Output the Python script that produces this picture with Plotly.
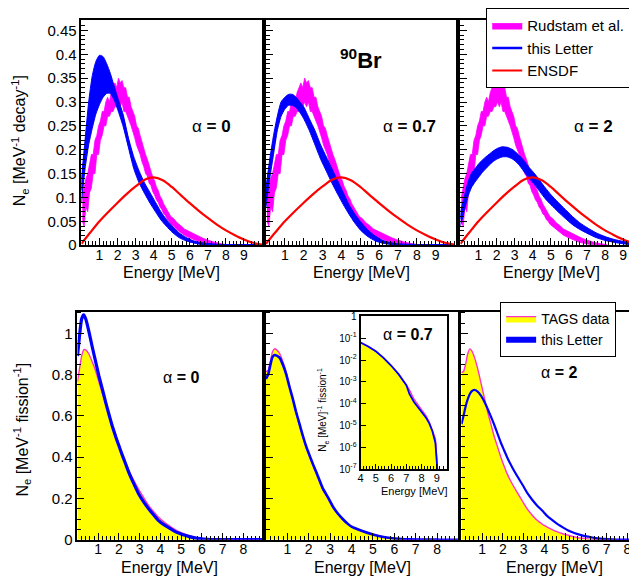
import plotly.graph_objects as go

W, H = 637, 586
FONT = "Liberation Sans, Arial, sans-serif"

def fx(px):
    return px / W

def fy(py):
    return 1 - py / H

# ---------------- TOP ROW DATA (90Br, N_e per MeV per decay) ----------------
# Rudstam et al. measured band (same in all three panels)
rud_E = [0.05, 0.15, 0.25, 0.35, 0.45, 0.55, 0.65, 0.75, 0.85, 0.95,
         1.05, 1.15, 1.25, 1.35, 1.45, 1.55, 1.65, 1.75, 1.85, 1.95,
         2.05, 2.15, 2.25, 2.35, 2.45, 2.55, 2.65, 2.75, 2.85, 2.95,
         3.05, 3.15, 3.25, 3.35, 3.45, 3.55, 3.65, 3.75, 3.85, 3.95,
         4.05, 4.15, 4.25, 4.35, 4.45, 4.55, 4.65, 4.75, 4.85, 4.95,
         5.1, 5.3, 5.5, 5.7, 5.9, 6.1, 6.3, 6.5, 6.7, 6.9, 7.1, 7.3, 7.5, 7.7, 7.9, 8.1]
rud_lo = [0.05, 0.04, 0.08, 0.07, 0.11, 0.12, 0.15, 0.15, 0.19, 0.19,
          0.22, 0.23, 0.25, 0.25, 0.27, 0.27, 0.28, 0.28, 0.29, 0.29,
          0.30, 0.29, 0.30, 0.28, 0.28, 0.27, 0.26, 0.25, 0.24, 0.225,
          0.21, 0.20, 0.19, 0.175, 0.165, 0.15, 0.145, 0.13, 0.125, 0.112,
          0.105, 0.095, 0.09, 0.08, 0.075, 0.066, 0.062, 0.054, 0.05, 0.044,
          0.04, 0.032, 0.027, 0.021, 0.017, 0.013, 0.01, 0.007, 0.005, 0.003,
          0.002, 0.001, 0.0, 0.0, 0.0, 0.0]
rud_hi = [0.10, 0.12, 0.14, 0.15, 0.17, 0.19, 0.19, 0.22, 0.23, 0.25,
          0.26, 0.28, 0.28, 0.30, 0.31, 0.30, 0.32, 0.33, 0.34, 0.33,
          0.35, 0.34, 0.345, 0.33, 0.33, 0.31, 0.31, 0.29, 0.28, 0.27,
          0.25, 0.245, 0.23, 0.215, 0.205, 0.19, 0.18, 0.165, 0.155, 0.143,
          0.135, 0.122, 0.115, 0.103, 0.097, 0.087, 0.08, 0.073, 0.067, 0.06,
          0.056, 0.047, 0.041, 0.034, 0.03, 0.026, 0.022, 0.018, 0.015, 0.012,
          0.009, 0.007, 0.005, 0.003, 0.002, 0.001]

# "this Letter" bands for alpha = 0, 0.7, 2
bt_E = [0, 0.2, 0.4, 0.6, 0.8, 1.0, 1.2, 1.4, 1.6, 1.8, 2.0, 2.3, 2.6, 2.9, 3.2, 3.5,
        3.8, 4.1, 4.4, 4.7, 5.0, 5.4, 5.8, 6.2, 6.6, 7.0, 7.5, 8.0, 8.5, 9.0, 9.5, 10.0]
a0_lo = [0.09, 0.16, 0.21, 0.245, 0.275, 0.295, 0.31, 0.318, 0.318, 0.305, 0.285, 0.25,
         0.205, 0.16, 0.13, 0.108, 0.088, 0.07, 0.053, 0.04, 0.028, 0.016, 0.009, 0.005,
         0.002, 0.001, 0, 0, 0, 0, 0, 0]
a0_hi = [0.14, 0.22, 0.30, 0.355, 0.385, 0.398, 0.395, 0.38, 0.36, 0.335, 0.31, 0.275,
         0.225, 0.185, 0.155, 0.13, 0.11, 0.09, 0.07, 0.054, 0.041, 0.026, 0.016, 0.009,
         0.005, 0.003, 0.001, 0, 0, 0, 0, 0]
a07_lo = [0.08, 0.14, 0.19, 0.24, 0.27, 0.285, 0.293, 0.293, 0.288, 0.278, 0.265, 0.24,
          0.21, 0.18, 0.155, 0.13, 0.107, 0.085, 0.065, 0.047, 0.032, 0.018, 0.009, 0.004,
          0.002, 0.001, 0, 0, 0, 0, 0, 0]
a07_hi = [0.12, 0.18, 0.23, 0.27, 0.30, 0.31, 0.316, 0.316, 0.31, 0.30, 0.29, 0.265,
          0.24, 0.21, 0.185, 0.16, 0.135, 0.11, 0.085, 0.066, 0.05, 0.032, 0.019, 0.01,
          0.005, 0.002, 0.001, 0, 0, 0, 0, 0]
a2_lo = [0.04, 0.07, 0.10, 0.12, 0.132, 0.142, 0.152, 0.16, 0.168, 0.175, 0.18, 0.185,
         0.185, 0.18, 0.17, 0.155, 0.14, 0.127, 0.112, 0.097, 0.085, 0.07, 0.056, 0.043,
         0.033, 0.025, 0.016, 0.01, 0.006, 0.003, 0.001, 0]
a2_hi = [0.07, 0.10, 0.13, 0.15, 0.16, 0.17, 0.178, 0.185, 0.191, 0.197, 0.202, 0.206,
         0.205, 0.20, 0.19, 0.178, 0.163, 0.15, 0.135, 0.12, 0.106, 0.09, 0.075, 0.06,
         0.047, 0.037, 0.026, 0.018, 0.012, 0.008, 0.004, 0.001]

# ENSDF
en_E = [0, 0.5, 1, 1.5, 2, 2.5, 3, 3.5, 4, 4.5, 5, 5.5, 6, 6.5, 7, 7.5, 8, 8.5, 9, 9.5, 10]
en_y = [0.003, 0.027, 0.05, 0.07, 0.089, 0.107, 0.123, 0.137, 0.142, 0.136, 0.122,
        0.105, 0.088, 0.072, 0.057, 0.043, 0.031, 0.021, 0.012, 0.005, 0.001]

# ---------------- BOTTOM ROW DATA (N_e per MeV per fission) ----------------
p1_E = [0, 0.1, 0.2, 0.3, 0.4, 0.55, 0.7, 0.87, 1.03, 1.2, 1.36, 1.52, 1.68, 1.84, 2.0,
        2.16, 2.32, 2.5, 2.7, 2.96, 3.2, 3.44, 3.7, 3.9, 4.15, 4.4, 4.65, 4.88, 5.1, 5.36,
        5.6, 5.8, 6.1, 6.4, 6.8, 7.3, 8.0, 8.9]
p1_tags = [0.765, 0.83, 0.89, 0.92, 0.92, 0.90, 0.865, 0.82, 0.765, 0.71, 0.66, 0.61,
           0.56, 0.51, 0.46, 0.415, 0.372, 0.33, 0.29, 0.243, 0.203, 0.165, 0.133, 0.11,
           0.088, 0.07, 0.053, 0.039, 0.03, 0.02, 0.013, 0.008, 0.004, 0.002, 0.001, 0, 0, 0]
p1_this = [0.89, 0.99, 1.07, 1.09, 1.07, 1.01, 0.94, 0.865, 0.795, 0.73, 0.666, 0.607,
           0.55, 0.50, 0.455, 0.41, 0.368, 0.32, 0.275, 0.22, 0.182, 0.149, 0.117, 0.094,
           0.074, 0.058, 0.043, 0.032, 0.024, 0.016, 0.01, 0.006, 0.003, 0.001, 0, 0, 0, 0]

p2_E = [0, 0.1, 0.2, 0.3, 0.4, 0.5, 0.65, 0.8, 0.95, 1.1, 1.26, 1.4, 1.57, 1.72, 1.88,
        2.05, 2.2, 2.4, 2.65, 2.9, 3.12, 3.35, 3.6, 3.8]
p2_tags = [0.815, 0.82, 0.86, 0.91, 0.925, 0.92, 0.90, 0.86, 0.81, 0.745, 0.68, 0.62,
           0.557, 0.50, 0.447, 0.40, 0.36, 0.31, 0.245, 0.20, 0.158, 0.125, 0.097, 0.078]
p2_this = [0.78, 0.80, 0.845, 0.885, 0.895, 0.892, 0.88, 0.845, 0.80, 0.74, 0.68, 0.622,
           0.56, 0.505, 0.452, 0.405, 0.365, 0.315, 0.25, 0.205, 0.162, 0.128, 0.099, 0.079]
# high-energy tail for alpha = 0.7 (also shown in the log inset)
tail_E = [4.0, 4.5, 5.0, 5.5, 6.0, 6.5, 7.0, 7.2, 7.5, 8.0, 8.3, 8.5, 8.7, 8.9, 9.0, 9.05]
tail_tags = [6.3e-2, 4.2e-2, 2.5e-2, 1.26e-2, 5.6e-3, 2.2e-3, 7.1e-4, 4.3e-4, 1.6e-4,
             5.4e-5, 2.7e-5, 1.4e-5, 6.3e-6, 2.5e-6, 2.5e-7, 6e-8]
tail_this = [6.3e-2, 4.2e-2, 2.5e-2, 1.26e-2, 5.6e-3, 2.2e-3, 7.1e-4, 2.8e-4, 1.2e-4,
             4.3e-5, 2.2e-5, 1.26e-5, 5.6e-6, 1.6e-6, 3.2e-7, 6e-8]

p3_E = [0, 0.1, 0.2, 0.3, 0.4, 0.5, 0.62, 0.78, 0.94, 1.1, 1.26, 1.42, 1.58, 1.74, 1.9,
        2.05, 2.2, 2.45, 2.7, 2.95, 3.17, 3.4, 3.65, 3.9, 4.1, 4.35, 4.6, 4.85, 5.1, 5.35,
        5.6, 5.85, 6.1, 6.4, 6.7, 7.0, 7.5, 8.0, 8.75]
p3_tags = [0.81, 0.815, 0.85, 0.90, 0.925, 0.915, 0.886, 0.83, 0.76, 0.69, 0.62, 0.56,
           0.50, 0.45, 0.40, 0.358, 0.32, 0.27, 0.227, 0.185, 0.149, 0.12, 0.094, 0.075,
           0.063, 0.05, 0.039, 0.03, 0.023, 0.016, 0.01, 0.007, 0.004, 0.002, 0.001,
           0.0005, 0, 0, 0]
p3_this = [0.56, 0.60, 0.645, 0.68, 0.705, 0.72, 0.726, 0.718, 0.698, 0.67, 0.635, 0.597,
           0.557, 0.513, 0.47, 0.435, 0.40, 0.35, 0.306, 0.265, 0.227, 0.195, 0.165, 0.14,
           0.118, 0.097, 0.078, 0.062, 0.047, 0.036, 0.027, 0.02, 0.015, 0.009, 0.005,
           0.003, 0.001, 0, 0]

top_ticks = [1, 2, 3, 4, 5, 6, 7, 8, 9]
bot_ticks = [1, 2, 3, 4, 5, 6, 7, 8]
inset_ticks = [4, 5, 6, 7, 8, 9]
top_yvals = [0, 0.05, 0.1, 0.15, 0.2, 0.25, 0.3, 0.35, 0.4, 0.45]
top_ytext = ["0", "0.05", "0.1", "0.15", "0.2", "0.25", "0.3", "0.35", "0.4", "0.45"]
bot_yvals = [0, 0.2, 0.4, 0.6, 0.8, 1.0]
bot_ytext = ["0", "0.2", "0.4", "0.6", "0.8", "1"]
inset_yvals = [1e-7, 1e-6, 1e-5, 1e-4, 1e-3, 1e-2, 1e-1, 1]
inset_ytext = ["10<sup>-7</sup>", "10<sup>-6</sup>", "10<sup>-5</sup>", "10<sup>-4</sup>",
               "10<sup>-3</sup>", "10<sup>-2</sup>", "10<sup>-1</sup>", "1"]

MAG = "#ff00ff"
BLUE = "#0000ff"
RED = "#ff0000"
YEL = "#ffff00"
PINK = "#ff33cc"

fig = go.Figure()

bands = [(a0_lo, a0_hi), (a07_lo, a07_hi), (a2_lo, a2_hi)]
for k, (lo, hi) in enumerate(bands):
    xa = "x" if k == 0 else f"x{k+1}"
    ya = "y" if k == 0 else f"y{k+1}"
    first = (k == 0)
    fig.add_trace(go.Scatter(
        x=rud_E + rud_E[::-1], y=rud_hi + rud_lo[::-1], xaxis=xa, yaxis=ya,
        fill="toself", fillcolor=MAG, mode="lines", line=dict(color=MAG, width=0.8),
        name="Rudstam et al.", showlegend=first, legend="legend"))
    fig.add_trace(go.Scatter(
        x=bt_E + bt_E[::-1], y=hi + lo[::-1], xaxis=xa, yaxis=ya,
        fill="toself", fillcolor=BLUE, mode="lines",
        line=dict(color=BLUE, width=1, shape="spline", smoothing=0.6),
        showlegend=False, hoverinfo="skip"))
    mid = [(a + b) / 2 for a, b in zip(lo, hi)]
    fig.add_trace(go.Scatter(
        x=bt_E, y=mid, xaxis=xa, yaxis=ya, mode="lines",
        line=dict(color=BLUE, width=2.5, shape="spline", smoothing=0.6),
        name="this Letter", showlegend=first, legend="legend"))
    fig.add_trace(go.Scatter(
        x=en_E, y=en_y, xaxis=xa, yaxis=ya, mode="lines",
        line=dict(color=RED, width=2.2, shape="spline", smoothing=0.8),
        name="ENSDF", showlegend=first, legend="legend"))

# bottom panels
p2_fullE = p2_E + tail_E
p2_fullT = p2_tags + tail_tags
p2_fullB = p2_this + tail_this
bottom = [(p1_E, p1_tags, p1_this, 3.2), (p2_fullE, p2_fullT, p2_fullB, 2.6),
          (p3_E, p3_tags, p3_this, 2.2)]
for k, (E, t, b, lw) in enumerate(bottom):
    xa = f"x{k+4}"
    ya = f"y{k+4}"
    fig.add_trace(go.Scatter(
        x=E, y=t, xaxis=xa, yaxis=ya, fill="tozeroy", fillcolor=YEL, mode="lines",
        line=dict(color=PINK, width=1.4, shape="spline", smoothing=0.5),
        name="TAGS data", showlegend=(k == 0), legend="legend2"))
    fig.add_trace(go.Scatter(
        x=E, y=b, xaxis=xa, yaxis=ya, mode="lines",
        line=dict(color=BLUE, width=lw, shape="spline", smoothing=0.5),
        showlegend=False))

# legend-only swatch for "this Letter" (bottom legend shows a filled box)
fig.add_trace(go.Scatter(
    x=[None], y=[None], xaxis="x4", yaxis="y4", mode="none", fill="toself",
    fillcolor=BLUE, name="this Letter", legend="legend2"))

# inset (log scale, alpha = 0.7)
fig.add_trace(go.Scatter(
    x=tail_E + [tail_E[-1], tail_E[0]], y=tail_tags + [1e-9, 1e-9],
    xaxis="x7", yaxis="y7", fill="toself", fillcolor=YEL, mode="lines",
    line=dict(color=PINK, width=1.4), showlegend=False))
fig.add_trace(go.Scatter(
    x=tail_E, y=tail_this, xaxis="x7", yaxis="y7", mode="lines",
    line=dict(color=BLUE, width=1.8), showlegend=False))


def xaxis(d0, d1, rng, ticks, show, anchor, minor=0.2, size=14):
    return dict(domain=[fx(d0), fx(d1)], range=rng, tickmode="array", tickvals=ticks,
                ticktext=[str(v) for v in ticks], showticklabels=show,
                ticks="inside", ticklen=7, tickwidth=1, tickcolor="black",
                ticklabelstandoff=-4,
                minor=dict(ticks="inside", ticklen=4, dtick=minor, tick0=0,
                           tickcolor="black", tickwidth=1),
                showline=True, mirror=True, linecolor="black", linewidth=1.6,
                showgrid=False, zeroline=False, anchor=anchor,
                tickfont=dict(size=size, color="black", family=FONT))


def yaxis(d0, d1, rng, vals, text, show, anchor, minor, size=15):
    return dict(domain=[fy(d1), fy(d0)], range=rng, tickmode="array", tickvals=vals,
                ticktext=text, showticklabels=show,
                ticks="inside", ticklen=7, tickwidth=1, tickcolor="black",
                minor=dict(ticks="inside", ticklen=4, dtick=minor, tick0=0,
                           tickcolor="black", tickwidth=1),
                showline=True, mirror=True, linecolor="black", linewidth=1.6,
                showgrid=False, zeroline=False, anchor=anchor,
                tickfont=dict(size=size, color="black", family=FONT))

TOP0, TOP1 = 3, 235
BOT0, BOT1 = 303.3, 538.3
layout = dict(
    width=W, height=H, margin=dict(l=0, r=0, t=0, b=0),
    paper_bgcolor="white", plot_bgcolor="white",
    font=dict(family=FONT, color="black"),
    xaxis=xaxis(71, 253, [0, 10], top_ticks, True, "y"),
    xaxis2=xaxis(257, 449, [0, 10.1], top_ticks, True, "y2"),
    xaxis3=xaxis(453, 637, [0, 10.1], top_ticks, True, "y3"),
    yaxis=yaxis(TOP0, TOP1, [0, 0.472], top_yvals, top_ytext, True, "x", 0.01),
    yaxis2=yaxis(TOP0, TOP1, [0, 0.472], top_yvals, top_ytext, False, "x2", 0.01),
    yaxis3=yaxis(TOP0, TOP1, [0, 0.472], top_yvals, top_ytext, False, "x3", 0.01),
    xaxis4=xaxis(67, 253, [0, 8.9], bot_ticks, True, "y4"),
    xaxis5=xaxis(257, 451, [0, 9.0], bot_ticks, True, "y5"),
    xaxis6=xaxis(454, 637, [0, 8.75], bot_ticks, True, "y6"),
    yaxis4=yaxis(BOT0, BOT1, [0, 1.106], bot_yvals, bot_ytext, True, "x4", 0.05),
    yaxis5=yaxis(BOT0, BOT1, [0, 1.106], bot_yvals, bot_ytext, False, "x5", 0.05),
    yaxis6=yaxis(BOT0, BOT1, [0, 1.106], bot_yvals, bot_ytext, False, "x6", 0.05),
    xaxis7=xaxis(352.3, 439.3, [4, 9.65], inset_ticks, True, "y7", minor=0.2, size=11),
    yaxis7=dict(yaxis(308.3, 465.7, [-7, 0], inset_yvals, inset_ytext, True, "x7",
                      0.5, size=10), type="log"),
    legend=dict(x=fx(479), y=fy(-9), xanchor="left", yanchor="top",
                bgcolor="white", bordercolor="black", borderwidth=1,
                font=dict(size=15, family=FONT, color="black"),
                traceorder="normal", itemwidth=30),
    legend2=dict(x=fx(493), y=fy(293.5), xanchor="left", yanchor="top",
                 bgcolor="white", bordercolor="black", borderwidth=1,
                 font=dict(size=14, family=FONT, color="black"),
                 traceorder="normal", itemwidth=30),
)
layout["yaxis7"]["minor"] = dict(ticks="")
layout["yaxis7"]["ticklen"] = 5
layout["xaxis7"]["ticklen"] = 5
layout["xaxis7"]["ticklabelstandoff"] = -2
layout["xaxis7"]["minor"]["ticklen"] = 3
layout["xaxis7"]["linewidth"] = 2
layout["yaxis7"]["linewidth"] = 2
fig.update_layout(**layout)


def text(s, px, py, size, **kw):
    fig.add_annotation(text=s, x=fx(px), y=fy(py), xref="paper", yref="paper",
                       showarrow=False, font=dict(size=size, family=FONT, color="black"),
                       xanchor="center", yanchor="middle", **kw)

# alpha labels and isotope label
text("α <b>= 0</b>", 202, 113, 17)
text("α <b>= 0.7</b>", 402, 113, 17)
text("α <b>= 2</b>", 587, 113, 17)
text("<b><sup>90</sup>Br</b>", 353, 43, 22)
text("α <b>= 0</b>", 171, 371, 16)
text("α <b>= 2</b>", 552, 366, 16)
text("α <b>= 0.7</b>", 400, 327, 16)

# axis titles
for cx in (162, 353, 545):
    text("Energy [MeV]", cx, 263, 16)
for cx in (160, 354, 548):
    text("Energy [MeV]", cx, 567, 16)
text("Energy [MeV]", 407, 488, 11)
text("N<sub>e</sub> [MeV<sup>-1</sup> decay<sup>-1</sup>]", 9, 127, 16, textangle=-90)
text("N<sub>e</sub> [MeV<sup>-1</sup> fission<sup>-1</sup>]", 11, 425, 16, textangle=-90)
text("N<sub>e</sub> [MeV]<sup>-1</sup> fission<sup>-1</sup>", 314, 405, 10, textangle=-90)

fig.write_html("out.html")
